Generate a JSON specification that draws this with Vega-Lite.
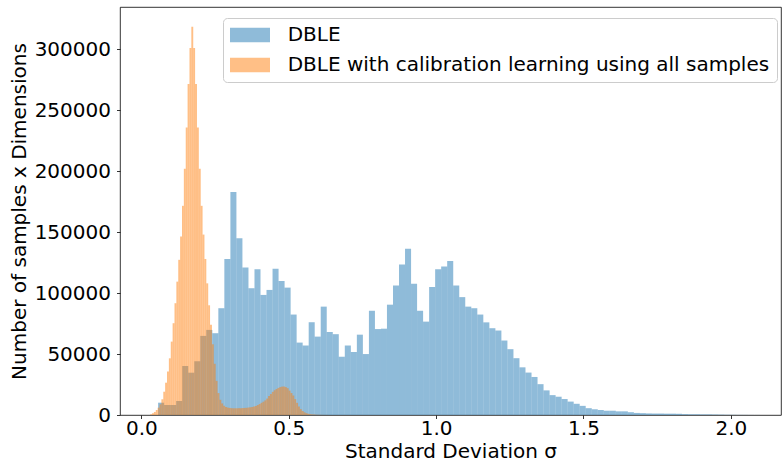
{
 "$schema": "https://vega.github.io/schema/vega-lite/v6.json",
 "width": 661, "height": 408,
 "autosize": {"type": "none"},
 "padding": {"left": 120, "top": 7, "right": 2, "bottom": 48},
 "background": "white",
 "config": {
  "font": "DejaVu Sans",
  "view": {"stroke": "#000", "strokeWidth": 0.8},
  "axis": {"domain": false, "grid": false, "tickColor": "#000", "tickWidth": 0.8, "tickSize": 3.5, "labelFontSize": 20, "labelColor": "#000", "labelFont": "DejaVu Sans", "titleFontSize": 20, "titleFontWeight": "normal", "titleColor": "#000", "titleFont": "DejaVu Sans"}
 },
 "datasets": {
  "blue": [
   {"lo":0.0570,"hi":0.0774,"c":10100},{"lo":0.0774,"hi":0.0979,"c":8200},{"lo":0.0979,"hi":0.1183,"c":8200},{"lo":0.1183,"hi":0.1387,"c":11500},
   {"lo":0.1387,"hi":0.1592,"c":40200},{"lo":0.1592,"hi":0.1796,"c":34700},{"lo":0.1796,"hi":0.2000,"c":44100},{"lo":0.2000,"hi":0.2204,"c":64900},
   {"lo":0.2204,"hi":0.2409,"c":69800},{"lo":0.2409,"hi":0.2613,"c":67100},{"lo":0.2613,"hi":0.2817,"c":87600},{"lo":0.2817,"hi":0.3022,"c":128000},
   {"lo":0.3022,"hi":0.3226,"c":183000},{"lo":0.3226,"hi":0.3430,"c":145000},{"lo":0.3430,"hi":0.3635,"c":121000},{"lo":0.3635,"hi":0.3839,"c":104000},
   {"lo":0.3839,"hi":0.4043,"c":119600},{"lo":0.4043,"hi":0.4247,"c":98500},{"lo":0.4247,"hi":0.4452,"c":102600},{"lo":0.4452,"hi":0.4656,"c":119900},
   {"lo":0.4656,"hi":0.4860,"c":110000},{"lo":0.4860,"hi":0.5065,"c":104500},{"lo":0.5065,"hi":0.5269,"c":82400},{"lo":0.5269,"hi":0.5473,"c":59400},
   {"lo":0.5473,"hi":0.5678,"c":57000},{"lo":0.5678,"hi":0.5882,"c":76100},{"lo":0.5882,"hi":0.6086,"c":64300},{"lo":0.6086,"hi":0.6290,"c":88900},
   {"lo":0.6290,"hi":0.6495,"c":68100},{"lo":0.6495,"hi":0.6699,"c":66300},{"lo":0.6699,"hi":0.6903,"c":47800},{"lo":0.6903,"hi":0.7108,"c":57000},
   {"lo":0.7108,"hi":0.7312,"c":51700},{"lo":0.7312,"hi":0.7516,"c":65900},{"lo":0.7516,"hi":0.7721,"c":50000},{"lo":0.7721,"hi":0.7925,"c":85500},
   {"lo":0.7925,"hi":0.8129,"c":70500},{"lo":0.8129,"hi":0.8333,"c":70800},{"lo":0.8333,"hi":0.8538,"c":90500},{"lo":0.8538,"hi":0.8742,"c":106300},
   {"lo":0.8742,"hi":0.8946,"c":123500},{"lo":0.8946,"hi":0.9151,"c":136400},{"lo":0.9151,"hi":0.9355,"c":107600},{"lo":0.9355,"hi":0.9559,"c":85500},
   {"lo":0.9559,"hi":0.9764,"c":76600},{"lo":0.9764,"hi":0.9968,"c":105100},{"lo":0.9968,"hi":1.0172,"c":119600},{"lo":1.0172,"hi":1.0376,"c":121800},
   {"lo":1.0376,"hi":1.0581,"c":126400},{"lo":1.0581,"hi":1.0785,"c":106300},{"lo":1.0785,"hi":1.0989,"c":96700},{"lo":1.0989,"hi":1.1194,"c":88900},
   {"lo":1.1194,"hi":1.1398,"c":87600},{"lo":1.1398,"hi":1.1602,"c":82400},{"lo":1.1602,"hi":1.1807,"c":76000},{"lo":1.1807,"hi":1.2011,"c":71200},
   {"lo":1.2011,"hi":1.2215,"c":69300},{"lo":1.2215,"hi":1.2419,"c":61100},{"lo":1.2419,"hi":1.2624,"c":54000},{"lo":1.2624,"hi":1.2828,"c":46600},
   {"lo":1.2828,"hi":1.3032,"c":39100},{"lo":1.3032,"hi":1.3237,"c":34800},{"lo":1.3237,"hi":1.3441,"c":31200},{"lo":1.3441,"hi":1.3645,"c":25300},
   {"lo":1.3645,"hi":1.3850,"c":20200},{"lo":1.3850,"hi":1.4054,"c":16300},{"lo":1.4054,"hi":1.4258,"c":15000},{"lo":1.4258,"hi":1.4462,"c":13100},
   {"lo":1.4462,"hi":1.4667,"c":11000},{"lo":1.4667,"hi":1.4871,"c":9200},{"lo":1.4871,"hi":1.5075,"c":7500},{"lo":1.5075,"hi":1.5280,"c":5600},
   {"lo":1.5280,"hi":1.5484,"c":4700},{"lo":1.5484,"hi":1.5688,"c":4100},{"lo":1.5688,"hi":1.5893,"c":3500},{"lo":1.5893,"hi":1.6097,"c":3500},
   {"lo":1.6097,"hi":1.6301,"c":3000},{"lo":1.6301,"hi":1.6505,"c":3000},{"lo":1.6505,"hi":1.6710,"c":2300},{"lo":1.6710,"hi":1.6914,"c":1700},
   {"lo":1.6914,"hi":1.7118,"c":1500},{"lo":1.7118,"hi":1.7323,"c":1300},{"lo":1.7323,"hi":1.7527,"c":1200},{"lo":1.7527,"hi":1.7731,"c":1200},
   {"lo":1.7731,"hi":1.7936,"c":1100},{"lo":1.7936,"hi":1.8140,"c":1100},{"lo":1.8140,"hi":1.8344,"c":1000},{"lo":1.8344,"hi":1.8548,"c":700},
   {"lo":1.8548,"hi":1.8753,"c":600},{"lo":1.8753,"hi":1.8957,"c":600},{"lo":1.8957,"hi":1.9161,"c":500},{"lo":1.9161,"hi":1.9366,"c":500},
   {"lo":1.9366,"hi":1.9570,"c":400},{"lo":1.9570,"hi":1.9774,"c":300},{"lo":1.9774,"hi":1.9979,"c":200},{"lo":1.9979,"hi":2.0183,"c":150},
   {"lo":2.0183,"hi":2.0387,"c":100},{"lo":2.0387,"hi":2.0591,"c":80},{"lo":2.0591,"hi":2.0796,"c":50},{"lo":2.0796,"hi":2.1000,"c":30}
  ],
  "orange": [
   {"lo":0.0300,"hi":0.0364,"c":550},{"lo":0.0364,"hi":0.0427,"c":1400},{"lo":0.0427,"hi":0.0491,"c":2500},{"lo":0.0491,"hi":0.0554,"c":4100},
   {"lo":0.0554,"hi":0.0618,"c":6000},{"lo":0.0618,"hi":0.0681,"c":8800},{"lo":0.0681,"hi":0.0745,"c":12900},{"lo":0.0745,"hi":0.0808,"c":19100},
   {"lo":0.0808,"hi":0.0872,"c":26500},{"lo":0.0872,"hi":0.0935,"c":35600},{"lo":0.0935,"hi":0.0999,"c":46500},{"lo":0.0999,"hi":0.1062,"c":60200},
   {"lo":0.1062,"hi":0.1126,"c":75300},{"lo":0.1126,"hi":0.1189,"c":91700},{"lo":0.1189,"hi":0.1253,"c":109400},{"lo":0.1253,"hi":0.1316,"c":127300},
   {"lo":0.1316,"hi":0.1380,"c":146400},{"lo":0.1380,"hi":0.1443,"c":171600},{"lo":0.1443,"hi":0.1507,"c":202000},{"lo":0.1507,"hi":0.1570,"c":235900},
   {"lo":0.1570,"hi":0.1634,"c":271500},{"lo":0.1634,"hi":0.1697,"c":301000},{"lo":0.1697,"hi":0.1761,"c":318500},{"lo":0.1761,"hi":0.1824,"c":301000},
   {"lo":0.1824,"hi":0.1888,"c":271500},{"lo":0.1888,"hi":0.1951,"c":235900},{"lo":0.1951,"hi":0.2015,"c":202000},{"lo":0.2015,"hi":0.2078,"c":171600},
   {"lo":0.2078,"hi":0.2142,"c":148000},{"lo":0.2142,"hi":0.2205,"c":128000},{"lo":0.2205,"hi":0.2269,"c":108000},{"lo":0.2269,"hi":0.2332,"c":90000},
   {"lo":0.2332,"hi":0.2396,"c":74000},{"lo":0.2396,"hi":0.2459,"c":58000},{"lo":0.2459,"hi":0.2523,"c":42000},{"lo":0.2523,"hi":0.2586,"c":28000},
   {"lo":0.2586,"hi":0.2650,"c":18000},{"lo":0.2650,"hi":0.2713,"c":12500},{"lo":0.2713,"hi":0.2777,"c":9500},{"lo":0.2777,"hi":0.2840,"c":7600},
   {"lo":0.2840,"hi":0.2904,"c":6600},{"lo":0.2904,"hi":0.2967,"c":6100},{"lo":0.2967,"hi":0.3031,"c":5800},{"lo":0.3031,"hi":0.3094,"c":5600},
   {"lo":0.3094,"hi":0.3158,"c":5500},{"lo":0.3158,"hi":0.3221,"c":5500},{"lo":0.3221,"hi":0.3285,"c":5500},{"lo":0.3285,"hi":0.3348,"c":5600},
   {"lo":0.3348,"hi":0.3412,"c":5600},{"lo":0.3412,"hi":0.3475,"c":5700},{"lo":0.3475,"hi":0.3539,"c":5800},{"lo":0.3539,"hi":0.3602,"c":5900},
   {"lo":0.3602,"hi":0.3666,"c":6100},{"lo":0.3666,"hi":0.3729,"c":6300},{"lo":0.3729,"hi":0.3793,"c":6600},{"lo":0.3793,"hi":0.3856,"c":6900},
   {"lo":0.3856,"hi":0.3920,"c":7400},{"lo":0.3920,"hi":0.3983,"c":8200},{"lo":0.3983,"hi":0.4047,"c":9000},{"lo":0.4047,"hi":0.4110,"c":10000},
   {"lo":0.4110,"hi":0.4174,"c":10900},{"lo":0.4174,"hi":0.4237,"c":12000},{"lo":0.4237,"hi":0.4301,"c":13500},{"lo":0.4301,"hi":0.4364,"c":15500},
   {"lo":0.4364,"hi":0.4428,"c":17200},{"lo":0.4428,"hi":0.4491,"c":19000},{"lo":0.4491,"hi":0.4555,"c":20300},{"lo":0.4555,"hi":0.4618,"c":21300},
   {"lo":0.4618,"hi":0.4682,"c":22200},{"lo":0.4682,"hi":0.4745,"c":22900},{"lo":0.4745,"hi":0.4809,"c":23300},{"lo":0.4809,"hi":0.4872,"c":23300},
   {"lo":0.4872,"hi":0.4936,"c":22900},{"lo":0.4936,"hi":0.4999,"c":22000},{"lo":0.4999,"hi":0.5063,"c":20000},{"lo":0.5063,"hi":0.5126,"c":18000},
   {"lo":0.5126,"hi":0.5190,"c":16000},{"lo":0.5190,"hi":0.5253,"c":13000},{"lo":0.5253,"hi":0.5317,"c":10000},{"lo":0.5317,"hi":0.5380,"c":7000},
   {"lo":0.5380,"hi":0.5444,"c":4800},{"lo":0.5444,"hi":0.5507,"c":3300},{"lo":0.5507,"hi":0.5571,"c":2200},{"lo":0.5571,"hi":0.5634,"c":1500},
   {"lo":0.5634,"hi":0.5698,"c":1000},{"lo":0.5698,"hi":0.5761,"c":700},{"lo":0.5761,"hi":0.5825,"c":500},{"lo":0.5825,"hi":0.5888,"c":350},
   {"lo":0.5888,"hi":0.5952,"c":250},{"lo":0.5952,"hi":0.6015,"c":180},{"lo":0.6015,"hi":0.6079,"c":130},{"lo":0.6079,"hi":0.6142,"c":100},
   {"lo":0.6142,"hi":0.6206,"c":80},{"lo":0.6206,"hi":0.6269,"c":60},{"lo":0.6269,"hi":0.6333,"c":40},{"lo":0.6333,"hi":0.6396,"c":30},
   {"lo":0.6396,"hi":0.6460,"c":20},{"lo":0.6460,"hi":0.6523,"c":15},{"lo":0.6523,"hi":0.6587,"c":10},{"lo":0.6587,"hi":0.6650,"c":5}
  ]
 },
 "encoding": {
  "x": {"field": "lo", "type": "quantitative", "scale": {"domain": [-0.0723, 2.170], "nice": false, "zero": false},
        "axis": {"values": [0, 0.5, 1, 1.5, 2], "format": ".1f", "title": "Standard Deviation σ", "labelPadding": 0, "titlePadding": 3}},
  "x2": {"field": "hi"},
  "y": {"field": "c", "type": "quantitative", "stack": null, "scale": {"domain": [0, 334700], "nice": false},
        "axis": {"values": [0, 50000, 100000, 150000, 200000, 250000, 300000], "format": "d", "title": "Number of samples x Dimensions", "labelPadding": 6, "titlePadding": 5}},
  "y2": {"datum": 0}
 },
 "layer": [
  {
   "data": {"name": "blue"},
   "mark": {"type": "bar", "opacity": 0.5, "strokeWidth": 0},
   "encoding": {
    "color": {"datum": "DBLE", "type": "nominal",
     "scale": {"domain": ["DBLE", "DBLE with calibration learning using all samples"], "range": ["#1f77b4", "#ff7f0e"]},
     "legend": {"orient": "none", "legendX": 103, "legendY": 11, "title": null,
      "symbolType": "M-1,-0.72L3,-0.72L3,0.72L-1,0.72Z", "symbolSize": 400, "symbolOpacity": 0.5, "symbolStrokeWidth": 0,
      "labelFontSize": 20, "labelFont": "DejaVu Sans", "labelColor": "#000", "labelOffset": 37.7, "labelLimit": 700,
      "rowPadding": 10, "padding": 7, "fillColor": "rgba(255,255,255,0.8)", "strokeColor": "#cccccc", "cornerRadius": 4}}
   }
  },
  {
   "data": {"name": "orange"},
   "mark": {"type": "bar", "opacity": 0.5, "strokeWidth": 0},
   "encoding": {
    "color": {"datum": "DBLE with calibration learning using all samples", "type": "nominal"}
   }
  }
 ]
}
